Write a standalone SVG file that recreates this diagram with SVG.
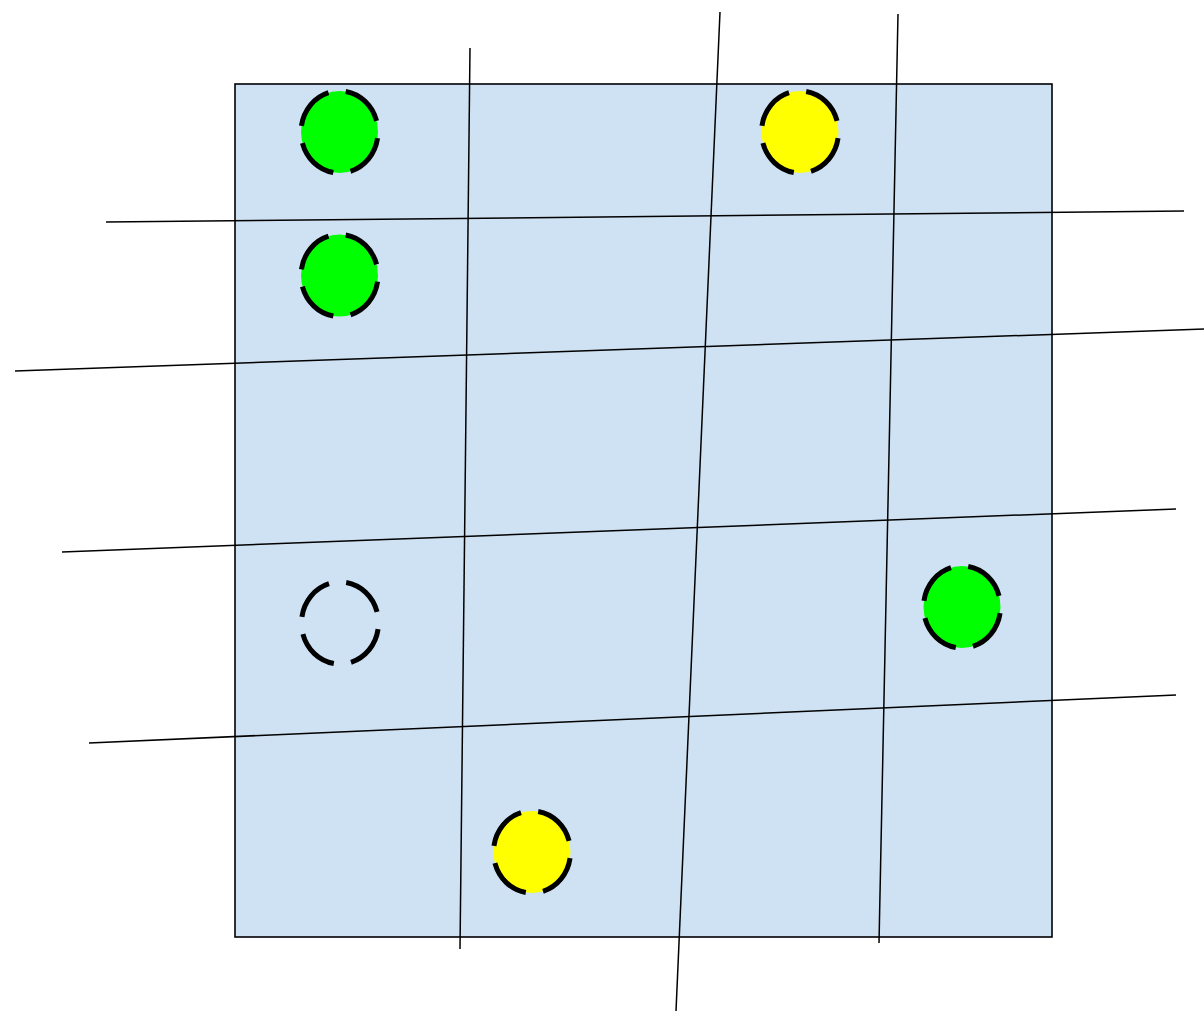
<svg xmlns="http://www.w3.org/2000/svg" width="1204" height="1012" viewBox="0 0 1204 1012">
<style>
.line{stroke:#000;stroke-width:1.5;fill:none}
.dot{stroke:#000;stroke-width:5px;stroke-dasharray:18 7;stroke-dashoffset:22.5}
.green{fill:#00ff00}
.yellow{fill:#ffff00}
.empty{fill:none}
</style>
<rect width="1204" height="1012" fill="#fff"/>
<g id="board">
<rect x="235" y="84" width="817" height="853" fill="#cfe2f3" stroke="#000" stroke-width="1.6"/>
</g>
<g id="connectors">
<line class="line" x1="470" y1="48" x2="460" y2="949"/>
<line class="line" x1="720" y1="12" x2="676" y2="1011"/>
<line class="line" x1="898" y1="14" x2="879" y2="943"/>
<line class="line" x1="106" y1="222" x2="1184" y2="211"/>
<line class="line" x1="15" y1="371" x2="1204" y2="329"/>
<line class="line" x1="62" y1="552" x2="1176" y2="509"/>
<line class="line" x1="89" y1="743" x2="1176" y2="695"/>
</g>
<g id="green1"><ellipse class="dot green" cx="339.5" cy="132" rx="38.5" ry="41" pathLength="100"/></g>
<g id="green2"><ellipse class="dot green" cx="339.5" cy="275.5" rx="38.5" ry="41" pathLength="100"/></g>
<g id="yellow1"><ellipse class="dot yellow" cx="800" cy="132" rx="38.5" ry="41" pathLength="100"/></g>
<g id="empty1"><ellipse class="dot empty" cx="340" cy="623" rx="38.5" ry="41" pathLength="100"/></g>
<g id="green3"><ellipse class="dot green" cx="962" cy="607" rx="38.5" ry="41" pathLength="100"/></g>
<g id="yellow2"><ellipse class="dot yellow" cx="532" cy="852" rx="38.5" ry="41" pathLength="100"/></g>
</svg>
